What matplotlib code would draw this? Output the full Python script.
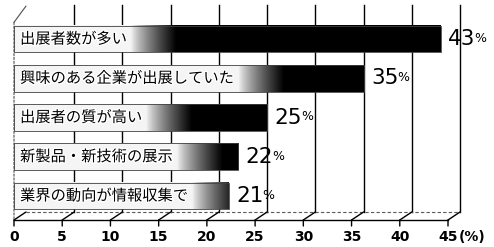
import numpy as np
import matplotlib
matplotlib.use("Agg")
import matplotlib.pyplot as plt
import matplotlib.transforms as mtransforms
import matplotlib.patheffects as pe

plt.rcParams['font.family'] = ['Noto Sans CJK JP', 'DejaVu Sans']

# data (top to bottom)
labels = ["出展者数が多い", "興味のある企業が出展していた", "出展者の質が高い",
          "新製品・新技術の展示", "業界の動向が情報収集で"]
values = [43, 35, 25, 22, 21]
ticks = [0, 5, 10, 15, 20, 25, 30, 35, 40, 45]

fig = plt.figure(figsize=(4.94, 2.47), dpi=100)
W, H = 494, 247
# back wall of the pseudo 3D box
ax = fig.add_axes([26 / W, 35 / H, 434 / W, 207 / H])
ax.set_axis_off()
xmax = 45
ymin, ymax = -0.41, 4.87
px = 434 / xmax  # pixels per unit
dx, dy = -12, -8  # depth offset of the front edge (pixels)
wall = -dx / px   # bars start on the left wall

# front (floor edge) transforms
xt = ax.get_xaxis_transform()
front = mtransforms.offset_copy(xt, fig=fig, x=dx, y=dy, units='dots')
tick_end = mtransforms.offset_copy(xt, fig=fig, x=dx, y=dy - 6, units='dots')
lab_tr = mtransforms.offset_copy(xt, fig=fig, x=dx, y=dy - 10, units='dots')

# grid lines on the back wall
for t in ticks[1:]:
    ax.plot([t, t], [0, 1], transform=xt, color='black', lw=1.0, zorder=1,
            clip_on=False)

# floor
ax.plot([0, xmax], [0, 0], transform=xt, color='0.35', lw=0.8,
        ls=(0, (3, 2)), clip_on=False)
ax.plot([0, xmax], [0, 0], transform=front, color='black', lw=1.0,
        clip_on=False)
for t in ticks:
    ax.annotate('', xy=(t, 0), xycoords=front, xytext=(t, 0), textcoords=xt,
                arrowprops=dict(arrowstyle='-', color='black', lw=1.0,
                                shrinkA=0, shrinkB=0))
    ax.annotate('', xy=(t, 0), xycoords=tick_end, xytext=(t, 0),
                textcoords=front,
                arrowprops=dict(arrowstyle='-', color='black', lw=1.0,
                                shrinkA=0, shrinkB=0))
    ax.text(t, 0, str(t), transform=lab_tr, ha='center', va='top',
            fontsize=10, fontweight='bold', family='DejaVu Sans')
pct_tr = mtransforms.offset_copy(xt, fig=fig, x=dx + 11, y=dy - 10, units='dots')
ax.text(45, 0, '(%)', transform=pct_tr, ha='left', va='top', fontsize=10,
        fontweight='bold', family='DejaVu Sans')

# left wall edge
ax.annotate('', xy=(0, 0), xycoords=front, xytext=(0, 0.955), textcoords=front,
            arrowprops=dict(arrowstyle='-', color='0.3', lw=0.8, ls=(0, (2, 1.5)),
                            shrinkA=0, shrinkB=0))
ax.annotate('', xy=(0, 0.955), xycoords=front, xytext=(0, 0.995), textcoords=xt,
            arrowprops=dict(arrowstyle='-', color='0.3', lw=0.8,
                            shrinkA=0, shrinkB=0))

# bars with white -> black gradient
ypos = np.arange(len(values))[::-1]
h = 0.68
for lab, v, y in zip(labels, values, ypos):
    left = -wall
    text_end = (20 + len(lab) * 15.4 - 26) / px
    r0, r1 = text_end + 0.3, text_end + 5.0
    xs = np.linspace(left, v, 300)
    ramp = np.clip((xs - r0) / (r1 - r0), 0, 1)
    shade = 0.96 * (1 - ramp ** 0.8)
    ax.imshow(shade[None, :], cmap='gray', vmin=0, vmax=1, aspect='auto',
              extent=[left, v, y - h / 2, y + h / 2], interpolation='bilinear',
              zorder=2, clip_on=False)
    ax.barh(y, v - left, left=left, height=h, color='none', edgecolor='0.25',
            lw=0.6, zorder=3, clip_on=False)
    ax.text(-0.62, y, lab, ha='left', va='center', fontsize=11.0, color='black',
            zorder=4, path_effects=[pe.withStroke(linewidth=2, foreground='white')])
    num = ax.annotate(str(v), xy=(v, y), xytext=(5.5, 0), textcoords='offset points',
                      ha='left', va='center', fontsize=15.5, family='DejaVu Sans',
                      zorder=4, annotation_clip=False)
    ax.annotate('%', xy=(1, 0), xycoords=num, xytext=(-0.8, 3.0),
                textcoords='offset points', ha='left', va='bottom', fontsize=9,
                family='DejaVu Sans', zorder=4)

ax.set_xlim(0, xmax)
ax.set_ylim(ymin, ymax)

fig.savefig('out.png', dpi=100)
